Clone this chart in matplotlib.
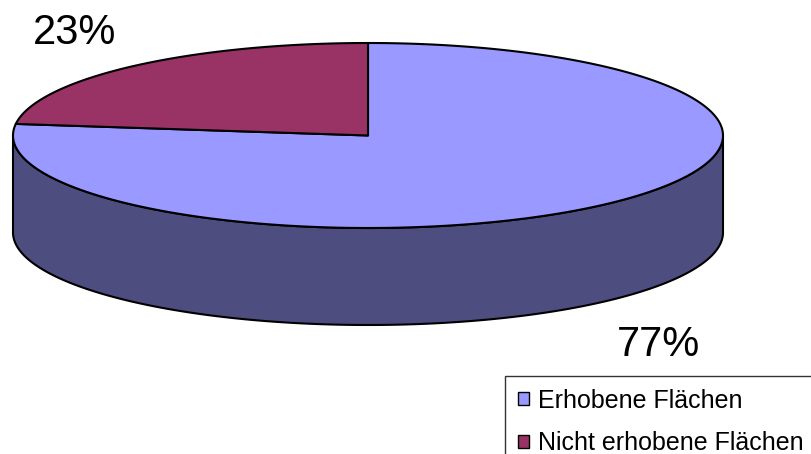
import matplotlib.pyplot as plt
import matplotlib.patches as mpatches
import numpy as np

plt.rcParams['font.family'] = ['Liberation Sans', 'DejaVu Sans']

# data
labels = ['Erhobene Flächen', 'Nicht erhobene Flächen']
values = [77, 23]
colors = ['#9999FF', '#993366']
side_colors = ['#4D4D80', '#4D1A33']
pct_labels = ['77%', '23%']

fig = plt.figure(figsize=(8.12, 4.54), dpi=100)
ax = fig.add_axes([0, 0, 1, 1])
ax.set_xlim(0, 812)
ax.set_ylim(454, 0)
ax.axis('off')

# pie geometry in pixel coords
cx, cy = 368, 135.5
rx, ry = 355, 92.5
depth = 97

def pt(a, dy=0):
    r = np.radians(a)
    return cx + rx * np.cos(r), cy - ry * np.sin(r) + dy

# slice angles: 2nd series starts at 12 o'clock going ccw, 1st fills the rest
fr = np.array(values, dtype=float) / sum(values)
red_start = 90
red_end = 90 + fr[1] * 360
slices = [(red_end, 450), (red_start, red_end)]  # blue, red

# side wall (front half)
for i, (a0, a1) in enumerate(slices):
    lo = max(a0, 180)
    hi = min(a1, 360)
    if hi > lo:
        aa = np.linspace(lo, hi, 200)
        top = [pt(a) for a in aa]
        bot = [pt(a, depth) for a in aa[::-1]]
        ax.add_patch(mpatches.Polygon(top + bot, closed=True, facecolor=side_colors[i],
                                      edgecolor='black', lw=1.5, joinstyle='round'))

# top faces
for i, (a0, a1) in enumerate(slices):
    aa = np.linspace(a0, a1, 300)
    poly = [(cx, cy)] + [pt(a) for a in aa]
    ax.add_patch(mpatches.Polygon(poly, closed=True, facecolor=colors[i],
                                  edgecolor='black', lw=1.5, joinstyle='round'))

# percentage labels
ax.text(75, 33, pct_labels[1], fontsize=30, ha='center', va='center', color='black')
ax.text(659, 345, pct_labels[0], fontsize=30, ha='center', va='center', color='black')

handles = [mpatches.Patch(facecolor=c, edgecolor='black', lw=1) for c in colors]
leg = fig.legend(handles, labels, loc='upper left', bbox_to_anchor=(505 / 812, 1 - 376 / 454),
                 fontsize=18, frameon=True, fancybox=False, edgecolor='black',
                 handlelength=0.45, handleheight=0.45, handletextpad=0.35,
                 borderpad=0.5, labelspacing=0.75, borderaxespad=0)
leg.get_frame().set_linewidth(1)

fig.savefig('out.png', dpi=100)
